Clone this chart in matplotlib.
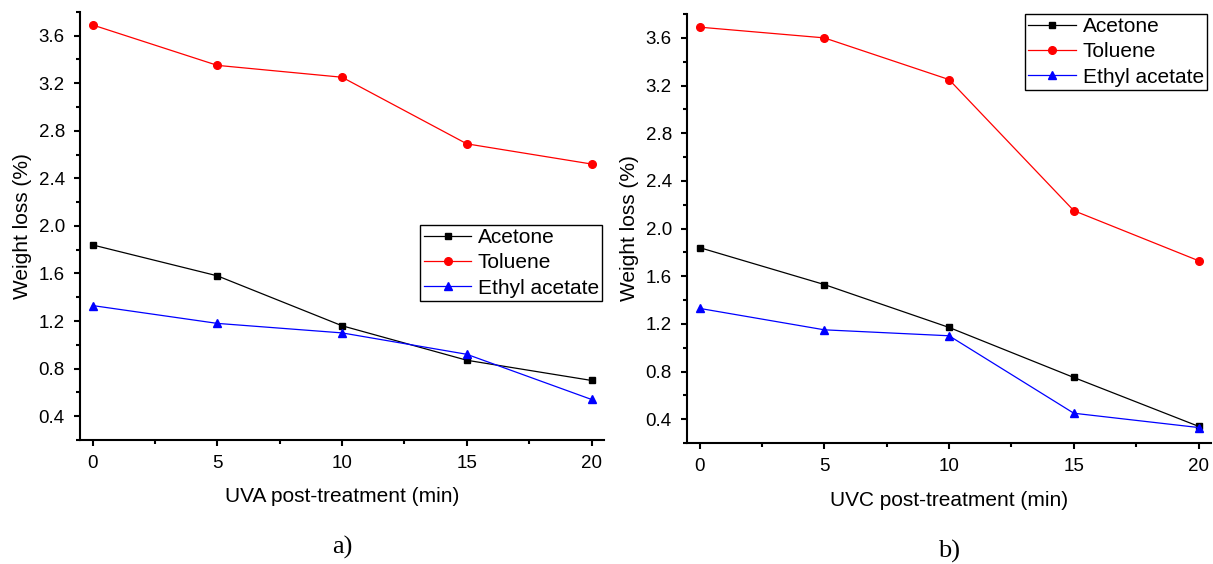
import matplotlib
matplotlib.use("Agg")
import matplotlib.pyplot as plt
from matplotlib.ticker import MultipleLocator

plt.rcParams['font.family'] = ['Liberation Sans', 'DejaVu Sans']

minutes = [0, 5, 10, 15, 20]

# UVA post-treatment
uva_acetone = [1.84, 1.58, 1.16, 0.87, 0.70]
uva_toluene = [3.69, 3.35, 3.25, 2.69, 2.52]
uva_ethyl = [1.33, 1.18, 1.10, 0.92, 0.54]

# UVC post-treatment
uvc_acetone = [1.84, 1.53, 1.17, 0.75, 0.34]
uvc_toluene = [3.69, 3.60, 3.25, 2.15, 1.73]
uvc_ethyl = [1.33, 1.15, 1.10, 0.45, 0.33]

series_names = ["Acetone", "Toluene", "Ethyl acetate"]
colors = ["black", "red", "blue"]
markers = ["s", "o", "^"]
msizes = [4.5, 5.5, 5.5]

fig = plt.figure(figsize=(12.13, 5.64), dpi=100)
ax1 = fig.add_axes([0.066, 0.220, 0.432, 0.759])
ax2 = fig.add_axes([0.5664, 0.2145, 0.432, 0.7606])

panels = [
    (ax1, [uva_acetone, uva_toluene, uva_ethyl], "UVA post-treatment (min)", "a)", (0.996, 0.502)),
    (ax2, [uvc_acetone, uvc_toluene, uvc_ethyl], "UVC post-treatment (min)", "b)", (0.992, 1.0)),
]

for ax, data, xlab, tag, anchor in panels:
    for vals, name, c, m, ms in zip(data, series_names, colors, markers, msizes):
        ax.plot(minutes, vals, color=c, marker=m, markersize=ms, linewidth=0.9, label=name)

    ax.set_xlim(-0.5, 20.5)
    ax.set_ylim(0.2, 3.8)
    ax.xaxis.set_major_locator(MultipleLocator(5))
    ax.xaxis.set_minor_locator(MultipleLocator(2.5))
    ax.yaxis.set_minor_locator(MultipleLocator(0.2))
    ax.set_yticks([0.4, 0.8, 1.2, 1.6, 2.0, 2.4, 2.8, 3.2, 3.6])
    ax.yaxis.set_major_formatter(plt.FuncFormatter(lambda v, p: "%.1f" % v))

    ax.spines['top'].set_visible(False)
    ax.spines['right'].set_visible(False)
    ax.spines['left'].set_linewidth(1.5)
    ax.spines['bottom'].set_linewidth(1.5)
    ax.tick_params(which='major', direction='out', length=4, width=1.5, labelsize=13.5, pad=7)
    ax.tick_params(which='minor', direction='out', length=3, width=1.5)

    ax.set_xlabel(xlab, fontsize=15, labelpad=11)
    ax.set_ylabel("Weight loss (%)", fontsize=15, labelpad=5)

    leg = ax.legend(loc='upper right', bbox_to_anchor=anchor, fontsize=15, fancybox=False,
                    edgecolor='black', framealpha=1, handlelength=2.3, labelspacing=0.3,
                    borderpad=0.15, handletextpad=0.3, borderaxespad=0)
    leg.get_frame().set_linewidth(1.0)

    ax.text(0.5, -0.225, tag, transform=ax.transAxes, ha='center', va='top',
            fontsize=19, family=['Liberation Serif', 'DejaVu Serif'])

fig.savefig("out.png", dpi=100)
